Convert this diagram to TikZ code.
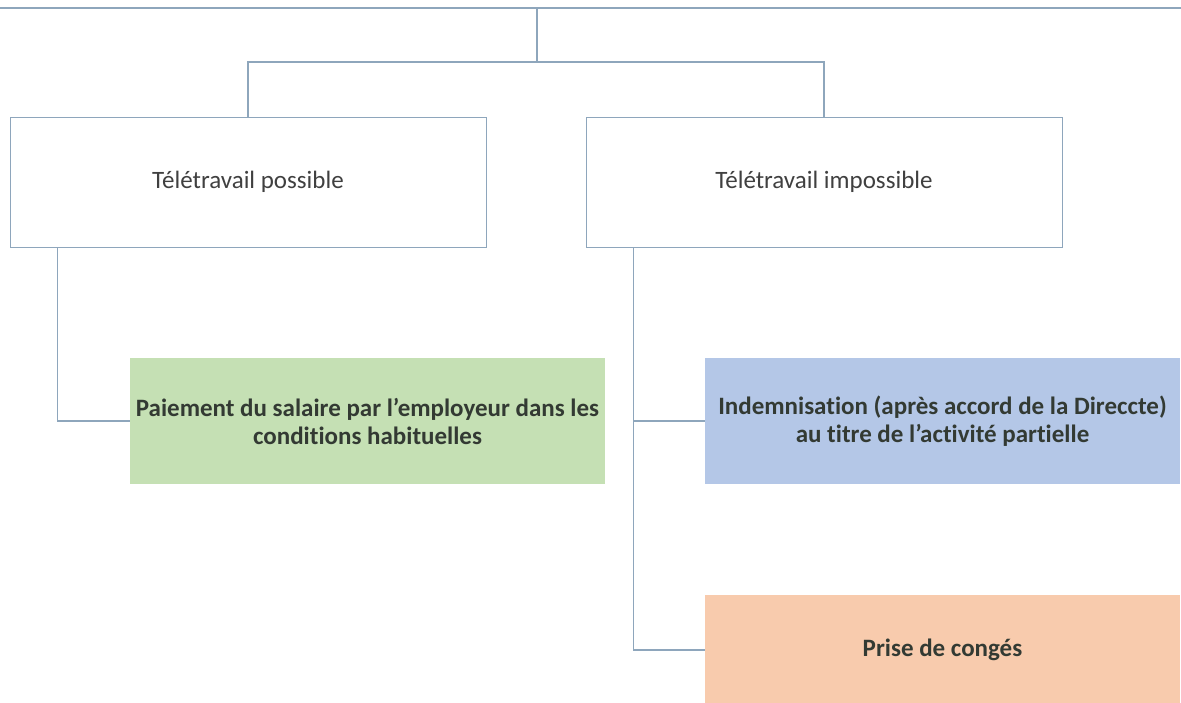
\documentclass[tikz,border=0pt]{standalone}
\usepackage{fontspec}
\setmainfont{Carlito}[Ligatures=NoCommon]
\usetikzlibrary{positioning}
\definecolor{lineC}{HTML}{8EA6BC}
\definecolor{textC}{HTML}{404040}
\definecolor{textB}{HTML}{333A33}
\definecolor{greenF}{HTML}{C5E0B4}
\definecolor{blueF}{HTML}{B4C7E7}
\definecolor{orangeF}{HTML}{F8CBAD}

\begin{document}
\begin{tikzpicture}[
        x=1pt, y=-1pt,
        defaultS/.style={
            rectangle,
            align=center,
            inner sep=0pt
        },
        whiteS/.style={
            defaultS,
            draw=lineC,
            line width=0.8pt,
            fill=white,
            text=textC,
            font=\fontsize{25}{30}\selectfont,
            minimum width=476pt,
            minimum height=130pt
        },
        colourS/.style={
            defaultS,
            text=textB,
            font=\bfseries\fontsize{25}{28}\selectfont,
            minimum width=475pt,
            minimum height=126pt
        },
        lineS/.style={draw=lineC, line width=1.3pt},
    ]

    \useasboundingbox (0,0) rectangle (1181,702);

    \coordinate (topL) at (0,8);
    \coordinate (topR) at (1181,8);
    \coordinate (root) at (537,8);
    \coordinate (fork) at (537,62);

    \node[whiteS] (poss) at (248,182) {Télétravail possible};
    \node[whiteS] (imposs) at (824,182) {Télétravail impossible};

    \node[colourS, fill=greenF] (salaire) at (367.5,421) {Paiement du salaire par l’employeur dans les\\conditions habituelles};
    \node[colourS, fill=blueF] (indemn) at (942.5,421) {Indemnisation (après accord de la Direccte)\\au titre de l’activité partielle};
    \node[colourS, fill=orangeF, minimum height=110pt] (conges) at (942.5,650) {Prise de congés};

    \draw[lineS] (topL) -- (topR);
    \draw[lineS] (root) -- (fork);
    \draw[lineS] (poss.north) |- (fork) -| (imposs.north);

    \draw[lineS] ([xshift=48pt]poss.south west) |- (salaire.west);
    \draw[lineS] ([xshift=48pt]imposs.south west) |- (indemn.west);
    \draw[lineS] ([xshift=48pt]imposs.south west) |- (conges.west);

    \end{tikzpicture}
\end{document}
